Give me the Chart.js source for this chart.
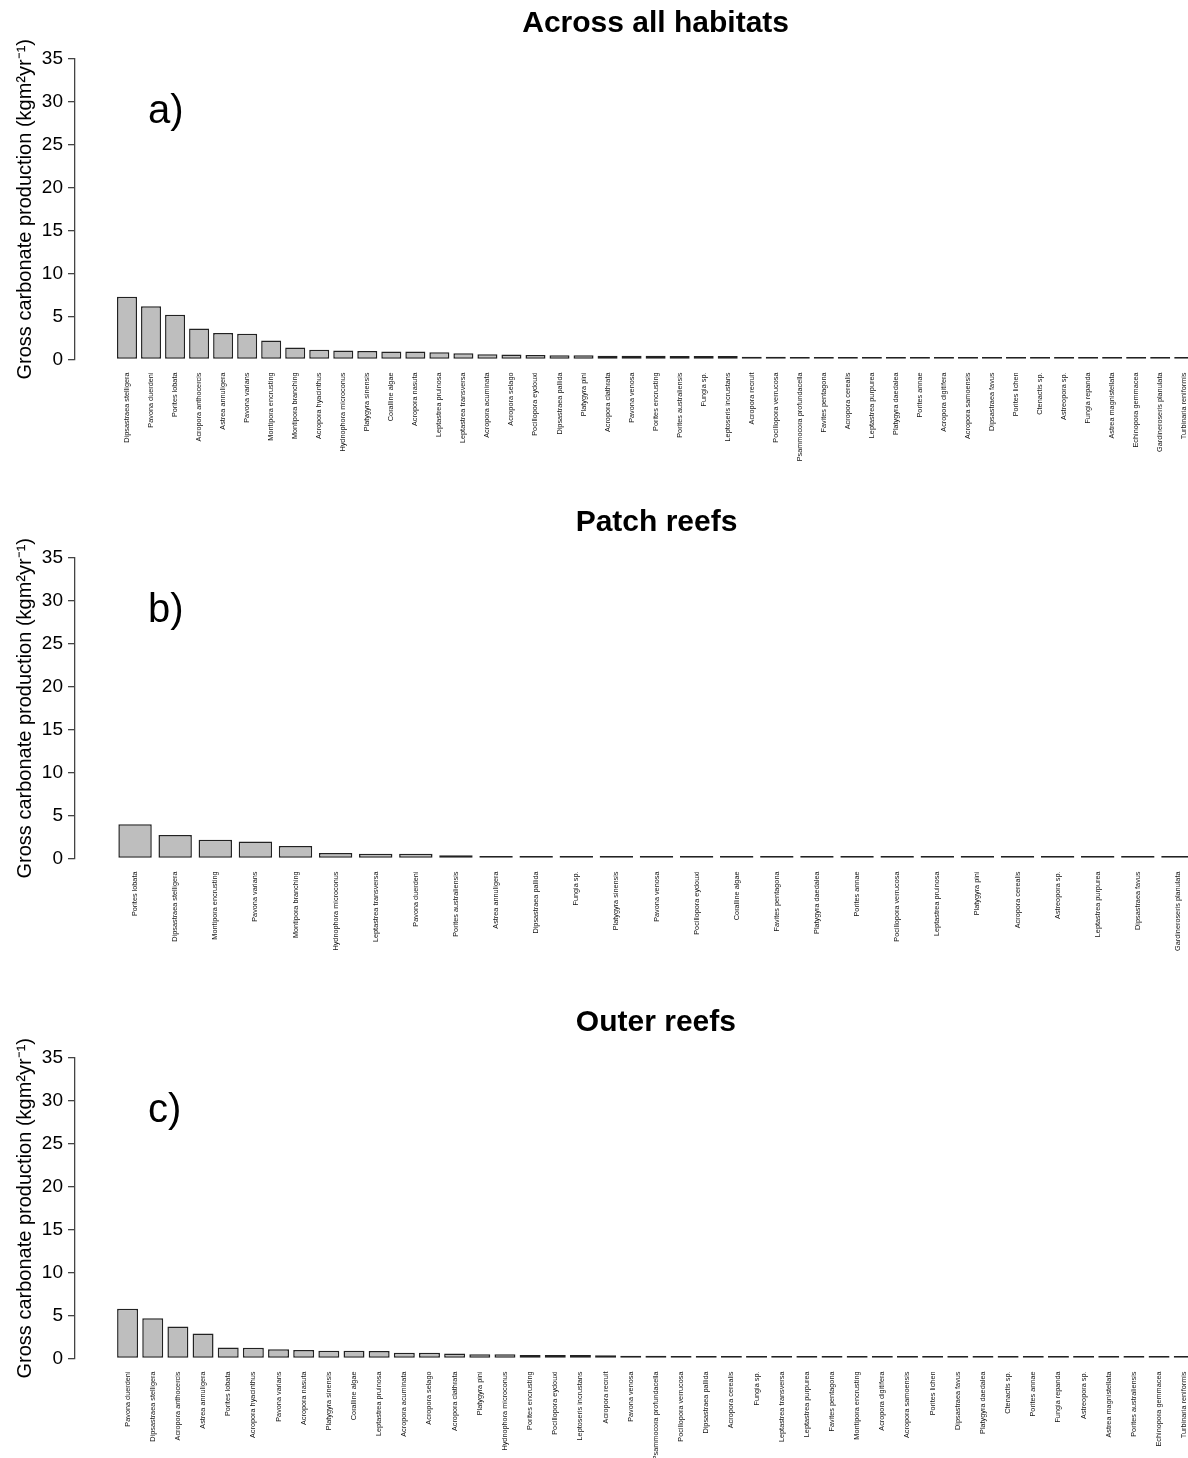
<!DOCTYPE html>
<html>
<head>
<meta charset="utf-8">
<script src="https://cdn.jsdelivr.net/npm/chart.js@4.4.1/dist/chart.umd.min.js"></script>
<style>
  body { margin: 0; background: #fff; }
  #wrap { position: relative; width: 1188px; height: 1458px; overflow: hidden; }
  .panel { position: absolute; left: 0; width: 1198px; }
</style>
</head>
<body>
<div id="wrap">
  <div class="panel" style="top:0px;height:470px"><canvas id="c1"></canvas></div>
  <div class="panel" style="top:499px;height:470px"><canvas id="c2"></canvas></div>
  <div class="panel" style="top:999px;height:459px"><canvas id="c3"></canvas></div>
</div>
<script>
// values (kg m-2 yr-1)
var allSpecies = ["Dipsastraea stelligera", "Pavona duerdeni", "Porites lobata", "Acropora anthocercis",
  "Astrea annuligera", "Pavona varians", "Montipora encrusting", "Montipora branching",
  "Acropora hyacinthus", "Hydnophora microconus", "Platygyra sinensis", "Coralline algae",
  "Acropora nasuta", "Leptastrea pruinosa", "Leptastrea transversa", "Acropora acuminata",
  "Acropora selago", "Pocillopora eydouxi", "Dipsastraea pallida", "Platygyra pini",
  "Acropora clathrata", "Pavona venosa", "Porites encrusting", "Porites australiensis",
  "Fungia sp.", "Leptoseris incrustans", "Acropora recruit", "Pocillopora verrucosa",
  "Psammocora profundacella", "Favites pentagona", "Acropora cerealis", "Leptastrea purpurea",
  "Platygyra daedalea", "Porites annae", "Acropora digitifera", "Acropora samoensis",
  "Dipsastraea favus", "Porites lichen", "Ctenactis sp.", "Astreopora sp.", "Fungia repanda",
  "Astrea magnistellata", "Echinopora gemmacea", "Gardineroseris planulata", "Turbinaria reniformis"];
var allValues = [7.3, 6.2, 5.2, 3.6, 3.1, 3.0, 2.2, 1.4, 1.15, 1.05, 1.0, 0.93, 0.93, 0.85, 0.73,
  0.6, 0.58, 0.52, 0.5, 0.5, 0.45, 0.44, 0.43, 0.42, 0.41, 0.4, 0.33, 0.32, 0.3, 0.27, 0.22,
  0.18, 0.16, 0.14, 0.13, 0.12, 0.11, 0.1, 0.05, 0.04, 0.03, 0.02, 0.02, 0.01, 0.01];

var patchSpecies = ["Porites lobata", "Dipsastraea stelligera", "Montipora encrusting", "Pavona varians",
  "Montipora branching", "Hydnophora microconus", "Leptastrea transversa", "Pavona duerdeni",
  "Porites australiensis", "Astrea annuligera", "Dipsastraea pallida", "Fungia sp.",
  "Platygyra sinensis", "Pavona venosa", "Pocillopora eydouxi", "Coralline algae",
  "Favites pentagona", "Platygyra daedalea", "Porites annae", "Pocillopora verrucosa",
  "Leptastrea pruinosa", "Platygyra pini", "Acropora cerealis", "Astreopora sp.",
  "Leptastrea purpurea", "Dipsastraea favus", "Gardineroseris planulata"];
var patchValues = [4.0, 2.75, 2.17, 1.98, 1.47, 0.63, 0.55, 0.55, 0.39, 0.28, 0.27, 0.2, 0.15,
  0.14, 0.13, 0.12, 0.05, 0.04, 0.03, 0.03, 0.02, 0.02, 0.02, 0.01, 0.01, 0.01, 0.01];

var outerSpecies = ["Pavona duerdeni", "Dipsastraea stelligera", "Acropora anthocercis", "Astrea annuligera",
  "Porites lobata", "Acropora hyacinthus", "Pavona varians", "Acropora nasuta", "Platygyra sinensis",
  "Coralline algae", "Leptastrea pruinosa", "Acropora acuminata", "Acropora selago",
  "Acropora clathrata", "Platygyra pini", "Hydnophora microconus", "Porites encrusting",
  "Pocillopora eydouxi", "Leptoseris incrustans", "Acropora recruit", "Pavona venosa",
  "Psammocora profundacella", "Pocillopora verrucosa", "Dipsastraea pallida", "Acropora cerealis",
  "Fungia sp.", "Leptastrea transversa", "Leptastrea purpurea", "Favites pentagona",
  "Montipora encrusting", "Acropora digitifera", "Acropora samoensis", "Porites lichen",
  "Dipsastraea favus", "Platygyra daedalea", "Ctenactis sp.", "Porites annae", "Fungia repanda",
  "Astreopora sp.", "Astrea magnistellata", "Porites australiensis", "Echinopora gemmacea",
  "Turbinaria reniformis"];
var outerValues = [5.78, 4.7, 3.72, 2.9, 1.28, 1.26, 1.09, 0.98, 0.9, 0.9, 0.88, 0.67, 0.67, 0.58,
  0.5, 0.5, 0.42, 0.41, 0.4, 0.38, 0.33, 0.32, 0.3, 0.3, 0.22, 0.22, 0.2, 0.2, 0.18, 0.12, 0.1,
  0.1, 0.09, 0.08, 0.08, 0.08, 0.07, 0.03, 0.03, 0.02, 0.02, 0.02, 0.02];

var yMax = 35;
var yStep = 5;
var yTitle = "Gross carbonate production (kgm\u00B2yr\u207B\u00B9)";

Chart.defaults.font.family = "'Liberation Sans', Arial, sans-serif";
Chart.defaults.color = "#000";

var panelLetter = {
  id: 'panelLetter',
  afterDraw: function(chart, args, opts) {
    var ctx = chart.ctx;
    ctx.save();
    ctx.font = "40px 'Liberation Sans', Arial, sans-serif";
    ctx.fillStyle = "#000";
    ctx.textAlign = "left";
    ctx.textBaseline = "middle";
    ctx.fillText(opts.text, 148, 112);
    ctx.restore();
  }
};

function makePanel(id, title, letter, labels, values, xHeight) {
  var ctx = document.getElementById(id).getContext("2d");
  return new Chart(ctx, {
    type: 'bar',
    data: {
      labels: labels,
      datasets: [{
        data: values,
        backgroundColor: '#bebebe',
        borderColor: '#222',
        borderWidth: 1.5,
        borderSkipped: false,
        minBarLength: 2.5,
        barPercentage: 0.833,
        categoryPercentage: 1
      }]
    },
    plugins: [panelLetter],
    options: {
      responsive: true,
      maintainAspectRatio: false,
      animation: false,
      layout: { padding: 0 },
      plugins: {
        legend: { display: false },
        tooltip: { enabled: false },
        panelLetter: { text: letter },
        title: {
          display: true,
          text: title,
          fullSize: false,
          font: { size: 30, weight: 'bold', lineHeight: 1.2 },
          color: '#000',
          padding: { top: 6, bottom: 17 }
        }
      },
      scales: {
        x: {
          grid: { display: false },
          border: { display: false },
          ticks: {
            autoSkip: false,
            minRotation: 90,
            maxRotation: 90,
            padding: 5,
            font: { size: 7.3 },
            color: '#111'
          },
          afterFit: function(s) { s.height = xHeight; }
        },
        y: {
          position: 'left',
          weight: 1,
          min: 0,
          max: yMax,
          ticks: { stepSize: yStep, font: { size: 19 }, color: '#000', padding: 5 },
          grid: { drawOnChartArea: false, tickLength: 7, color: '#444', lineWidth: 1.3 },
          border: { display: true, color: '#444', width: 1.3 },
          title: {
            display: true,
            text: yTitle,
            font: { size: 20 },
            color: '#000',
            padding: { top: 13, bottom: 0 }
          },
          afterFit: function(s) { s.width = 75; }
        },
        ypad: {
          type: 'linear',
          position: 'left',
          weight: 0,
          grid: { display: false },
          border: { display: false },
          ticks: { display: false },
          afterFit: function(s) { s.width = 40; }
        }
      }
    }
  });
}

window.onload = function() {
  makePanel("c1", "Across all habitats", "a)", allSpecies, allValues, 110.5);
  makePanel("c2", "Patch reefs", "b)", patchSpecies, patchValues, 110.5);
  makePanel("c3", "Outer reefs", "c)", outerSpecies, outerValues, 99.5);
};
</script>
</body>
</html>
